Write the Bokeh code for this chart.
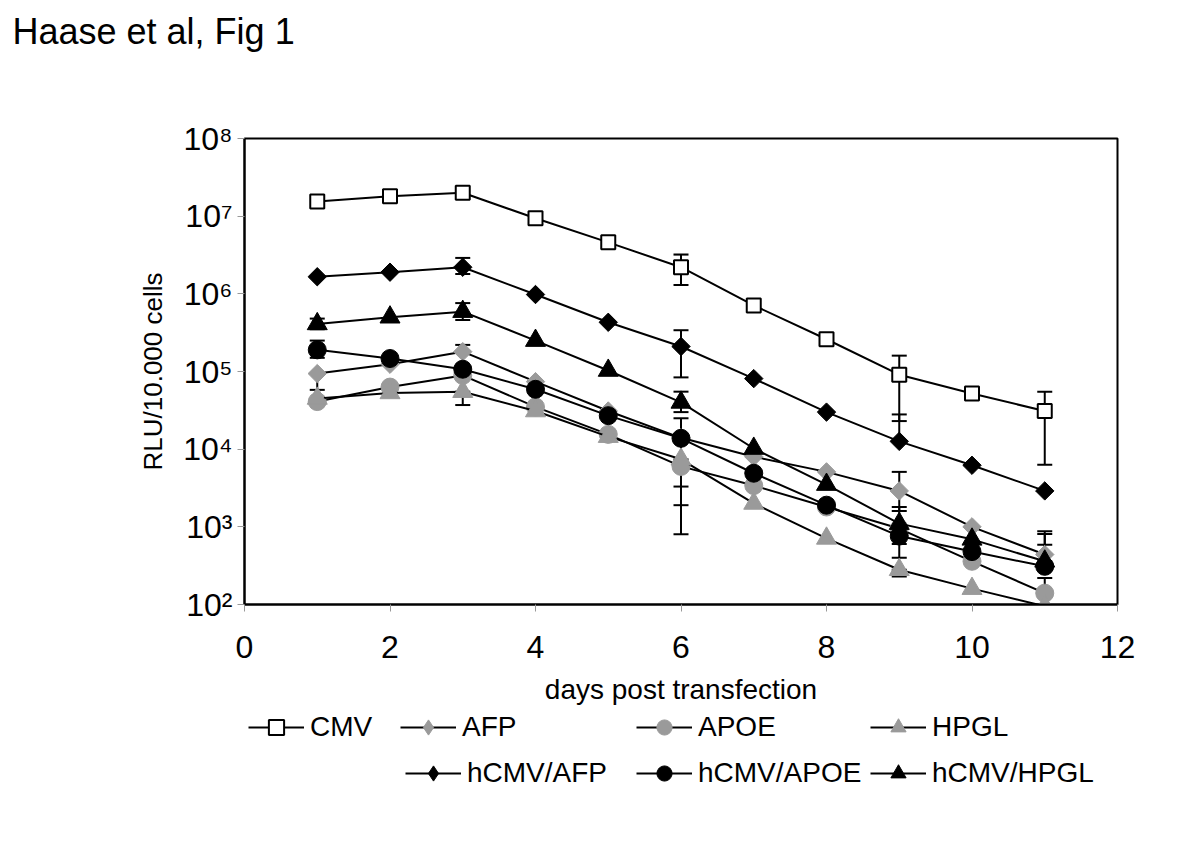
from bokeh.plotting import figure
from bokeh.layouts import column
from bokeh.models import Legend, LegendItem, FixedTicker, Title
from bokeh.embed import file_html
from bokeh.resources import INLINE
import math

# ---------------- data ----------------
days = [1, 2, 3, 4, 5, 6, 7, 8, 9, 10, 11]

cmv       = [1.55e7, 1.8e7, 2.0e7, 9.4e6, 4.6e6, 2.2e6, 7.1e5, 2.6e5, 9.1e4, 5.2e4, 3.1e4]
afp       = [9.4e4, 1.24e5, 1.8e5, 7.4e4, 3.1e4, 1.4e4, 8.0e3, 5.1e3, 2.9e3, 1.0e3, 4.4e2]
apoe      = [4.1e4, 6.3e4, 8.9e4, 3.5e4, 1.55e4, 6.0e3, 3.4e3, 1.8e3, 9.5e2, 3.6e2, 1.4e2]
hpgl      = [4.5e4, 5.3e4, 5.5e4, 3.1e4, 1.45e4, 7.4e3, 2.0e3, 7.1e2, 2.8e2, 1.6e2, 9.5e1]
hcmv_afp  = [1.66e6, 1.9e6, 2.2e6, 9.8e5, 4.3e5, 2.1e5, 8.1e4, 3.0e4, 1.26e4, 6.2e3, 2.9e3]
hcmv_apoe = [1.9e5, 1.47e5, 1.07e5, 5.9e4, 2.7e4, 1.38e4, 4.9e3, 1.9e3, 7.6e2, 4.8e2, 3.1e2]
hcmv_hpgl = [4.1e5, 5.0e5, 5.9e5, 2.5e5, 1.03e5, 4.0e4, 1.02e4, 3.5e3, 1.1e3, 6.9e2, 3.6e2]

# error bars (day, upper, lower)
cmv_err_day = [6, 9, 11]
cmv_err_hi  = [3.2e6, 1.6e5, 5.5e4]
cmv_err_lo  = [1.3e6, 2.3e4, 6.3e3]

afp_err_day = [1, 3, 6, 9, 11]
afp_err_hi  = [9.4e4, 2.2e5, 1.4e4, 5.1e3, 8.8e2]
afp_err_lo  = [5.8e4, 1.8e5, 3.3e3, 1.6e3, 4.4e2]

apoe_err_day = [6, 11]
apoe_err_hi  = [6.0e3, 2.2e2]
apoe_err_lo  = [8.0e2, 1.4e2]

hpgl_err_day = [3, 6, 9]
hpgl_err_hi  = [5.5e4, 7.4e3, 2.8e2]
hpgl_err_lo  = [3.7e4, 1.9e3, 2.3e2]

hcmv_afp_err_day = [3, 6, 9]
hcmv_afp_err_hi  = [2.9e6, 3.4e5, 2.8e4]
hcmv_afp_err_lo  = [1.8e6, 8.4e4, 1.26e4]

hcmv_apoe_err_day = [1, 6, 9, 11]
hcmv_apoe_err_hi  = [2.5e5, 2.5e4, 7.6e2, 5.9e2]
hcmv_apoe_err_lo  = [1.5e5, 1.38e4, 4.0e2, 3.1e2]

hcmv_hpgl_err_day = [1, 3, 6, 9, 11]
hcmv_hpgl_err_hi  = [4.8e5, 7.6e5, 5.5e4, 1.8e3, 8.1e2]
hcmv_hpgl_err_lo  = [3.5e5, 4.6e5, 3.0e4, 6.0e2, 3.6e2]

series_names = ["CMV", "AFP", "APOE", "HPGL", "hCMV/AFP", "hCMV/APOE", "hCMV/HPGL"]
x_ticks = [0, 2, 4, 6, 8, 10, 12]
y_ticks = [1e2, 1e3, 1e4, 1e5, 1e6, 1e7, 1e8]
y_tick_labels = ["10\u00b2", "10\u00b3", "10\u2074", "10\u2075", "10\u2076", "10\u2077", "10\u2078"]
title_text = "Haase et al, Fig 1"
x_label = "days post transfection"
y_label = "RLU/10.000 cells"

# ---------------- sizes ----------------
FONT = "Liberation Sans"
GRAY = "#9a9a9a"
W = 1184
H_TOP = 70           # strip holding the figure title
H_MAIN = 603         # chart itself
H_LEG = 832 - H_TOP - H_MAIN   # x-axis title + legend


def blank_strip(height):
    f = figure(width=W, height=height, x_range=(-2, -1), y_range=(-2, -1),
               output_backend="svg", toolbar_location=None,
               min_border=0, outline_line_color=None)
    f.axis.visible = False
    f.grid.visible = False
    f.background_fill_color = "white"
    f.border_fill_color = "white"
    return f


# ---------------- title strip ----------------
pt = blank_strip(H_TOP)
pt.title = Title(text=title_text, align="left", offset=-232, standoff=21,
                 vertical_align="top", text_font=FONT, text_font_size="36px",
                 text_font_style="normal", text_color="black")

# ---------------- main chart ----------------
p = figure(width=W, height=H_MAIN, y_axis_type="log",
           x_range=(0, 12), y_range=(1e2, 1e8),
           output_backend="svg", toolbar_location=None,
           min_border_left=244, min_border_right=W - 1117,
           min_border_top=138 - H_TOP, min_border_bottom=H_TOP + H_MAIN - 604)

p.background_fill_color = "white"
p.border_fill_color = "white"
p.outline_line_color = "black"
p.outline_line_width = 2
p.xgrid.grid_line_color = None
p.ygrid.grid_line_color = None

p.xaxis.ticker = FixedTicker(ticks=x_ticks)
p.yaxis.ticker = FixedTicker(ticks=y_ticks)
p.yaxis.major_label_overrides = {t: l for t, l in zip(y_ticks, y_tick_labels)}

for ax in (p.xaxis[0], p.yaxis[0]):
    ax.axis_line_color = "black"
    ax.axis_line_width = 2
    ax.major_tick_in = 0
    ax.major_tick_out = 7
    ax.major_tick_line_color = "#999999"
    ax.major_tick_line_width = 1
    ax.minor_tick_line_color = None
    ax.major_label_text_font = FONT
    ax.major_label_text_font_size = "32px"
    ax.major_label_text_color = "black"
    ax.axis_label_text_font = FONT
    ax.axis_label_text_font_style = "normal"
    ax.axis_label_text_color = "black"

p.xaxis.major_label_standoff = 24
p.yaxis.axis_label = y_label
p.yaxis.axis_label_text_font_size = "26px"
p.yaxis.major_label_standoff = 5
p.yaxis.axis_label_standoff = 12

# ---------------- error bars ----------------
err_sets = [
    (cmv_err_day, cmv_err_hi, cmv_err_lo),
    (afp_err_day, afp_err_hi, afp_err_lo),
    (apoe_err_day, apoe_err_hi, apoe_err_lo),
    (hpgl_err_day, hpgl_err_hi, hpgl_err_lo),
    (hcmv_afp_err_day, hcmv_afp_err_hi, hcmv_afp_err_lo),
    (hcmv_apoe_err_day, hcmv_apoe_err_hi, hcmv_apoe_err_lo),
    (hcmv_hpgl_err_day, hcmv_hpgl_err_hi, hcmv_hpgl_err_lo),
]
for d, hi, lo in err_sets:
    p.segment(x0=d, y0=lo, x1=d, y1=hi, line_color="black", line_width=2)
    p.scatter(x=d, y=hi, marker="dash", size=15, line_color="black", line_width=2)
    p.scatter(x=d, y=lo, marker="dash", size=15, line_color="black", line_width=2)

# ---------------- series ----------------
# (values, marker in plot, marker in legend, fill, outline, size, angle)
styles = [
    (cmv,       "square",   "square",   "white", "black", 14, 0.0),
    (afp,       "square",   "diamond",  GRAY,    GRAY,    13, math.pi / 4),
    (apoe,      "circle",   "circle",   GRAY,    GRAY,    18, 0.0),
    (hpgl,      "triangle", "triangle", GRAY,    GRAY,    20, 0.0),
    (hcmv_afp,  "square",   "diamond",  "black", "black", 13, math.pi / 4),
    (hcmv_apoe, "circle",   "circle",   "black", "black", 18, 0.0),
    (hcmv_hpgl, "triangle", "triangle", "black", "black", 20, 0.0),
]

for vals, mk, lmk, fill, lc, sz, ang in styles:
    p.line(days, vals, line_color="black", line_width=2)
    p.scatter(days, vals, marker=mk, size=sz, angle=ang,
              fill_color=fill, line_color=lc, line_width=2 if fill == "white" else 1)

# ---------------- x-axis title + legend strip below the chart ----------------
pl = blank_strip(H_LEG)
pl.title = Title(text=x_label, align="center", text_font=FONT,
                 text_font_size="28px", text_font_style="normal",
                 text_color="black", standoff=0, vertical_align="top")

legend_pos = [(4, 86), (156, 86), (392, 86), (626, 86),
              (161, 40), (392, 40), (626, 40)]
for name, (vals, mk, lmk, fill, lc, sz, ang), pos in zip(series_names, styles, legend_pos):
    # off-range copies of the series, used only to draw the legend samples
    rl = pl.line(x=days, y=vals, line_color="black", line_width=2)
    rs = pl.scatter(x=days, y=vals, marker=lmk, size=sz,
                    fill_color=fill, line_color=lc,
                    line_width=2 if fill == "white" else 1)
    leg = Legend(items=[LegendItem(label=name, renderers=[rl, rs])],
                 location=pos, orientation="horizontal",
                 glyph_width=56, glyph_height=38,
                 label_text_font=FONT, label_text_font_size="28px",
                 label_text_color="black",
                 label_standoff=6, padding=0, margin=0, spacing=0,
                 border_line_color=None, background_fill_alpha=0)
    pl.add_layout(leg)

layout = column(pt, p, pl, spacing=0)
open("out.html", "w").write(file_html(layout, INLINE))
